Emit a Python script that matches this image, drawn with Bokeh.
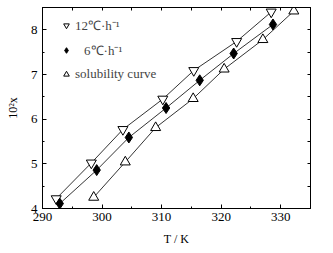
from bokeh.plotting import figure
from bokeh.models import LinearAxis, Legend, LegendItem, FixedTicker
from bokeh.embed import file_html
from bokeh.resources import INLINE

t12 = [292.3, 298.2, 303.5, 310.2, 315.4, 322.6, 328.4]
x12 = [4.22, 5.02, 5.77, 6.45, 7.09, 7.74, 8.40]
t6 = [292.9, 299.1, 304.5, 310.75, 316.4, 322.1, 328.7]
x6 = [4.11, 4.86, 5.59, 6.25, 6.87, 7.47, 8.12]
tsol = [298.6, 303.9, 309.0, 315.3, 320.5, 327.0, 332.2]
xsol = [4.25, 5.04, 5.81, 6.46, 7.12, 7.78, 8.42]
labels = ["12℃·h⁻¹", "\u2002\u20096℃·h⁻¹", "solubility curve"]
xticks = [290, 300, 310, 320, 330]
yticks = [4, 5, 6, 7, 8]

FONT = "Liberation Serif"

p = figure(width=333, height=253, x_range=(290, 335), y_range=(4, 8.5),
           output_backend="svg", toolbar_location=None,
           min_border_left=42, min_border_right=23, min_border_top=7, min_border_bottom=45)
p.xgrid.visible = False
p.ygrid.visible = False
p.outline_line_color = "black"
p.outline_line_width = 1
p.background_fill_color = "white"


def mids(ticks):
    step = ticks[1] - ticks[0]
    return [t + step / 2 for t in ticks]


for ax, ticks in ((p.xaxis[0], xticks), (p.yaxis[0], yticks)):
    ax.ticker = FixedTicker(ticks=ticks, minor_ticks=mids(ticks))
    ax.major_tick_in = 4
    ax.major_tick_out = 0
    ax.minor_tick_in = 2
    ax.minor_tick_out = 0
    ax.axis_line_color = "black"
    ax.major_label_text_font = FONT
    ax.major_label_text_font_size = "13px"
    ax.major_label_text_color = "black"
    ax.axis_label_text_font = FONT
    ax.axis_label_text_font_size = "12px"
    ax.axis_label_text_font_style = "normal"
    ax.axis_label_text_color = "black"

p.xaxis.axis_label = "T / K"
p.yaxis.axis_label = "10²x"
p.xaxis.major_label_standoff = 4
p.yaxis.major_label_standoff = 5
p.xaxis.axis_label_standoff = 8
p.yaxis.axis_label_standoff = 8

for loc, ticks in (("right", yticks), ("above", xticks)):
    ax = LinearAxis()
    ax.ticker = FixedTicker(ticks=[], minor_ticks=sorted(ticks + mids(ticks)))
    ax.major_tick_in = 0
    ax.major_tick_out = 0
    ax.minor_tick_in = 3
    ax.minor_tick_out = 0
    ax.axis_line_color = "black"
    p.add_layout(ax, loc)

p.line(t12, x12, line_color="black", line_width=0.8)
p.line(t6, x6, line_color="black", line_width=0.8)
p.line(tsol, xsol, line_color="black", line_width=0.8)

r1 = p.scatter(t12, x12, marker="inverted_triangle", size=10, line_color="black",
               fill_color="white", line_width=1)
r2 = p.scatter(t6, x6, marker="diamond", size=11, line_color="black",
               fill_color="black", line_width=1)
r3 = p.scatter(tsol, xsol, marker="triangle", size=10, line_color="black",
               fill_color="white", line_width=1)

legend = Legend(items=[LegendItem(label=labels[0], renderers=[r1]),
                       LegendItem(label=labels[1], renderers=[r2]),
                       LegendItem(label=labels[2], renderers=[r3])],
                location=(17, 126), border_line_color=None, background_fill_alpha=0,
                label_text_font=FONT, label_text_font_size="13px",
                glyph_width=14, glyph_height=14, label_standoff=2,
                spacing=7, padding=0, margin=0)
p.add_layout(legend)

open("out.html", "w").write(file_html(p, INLINE))
